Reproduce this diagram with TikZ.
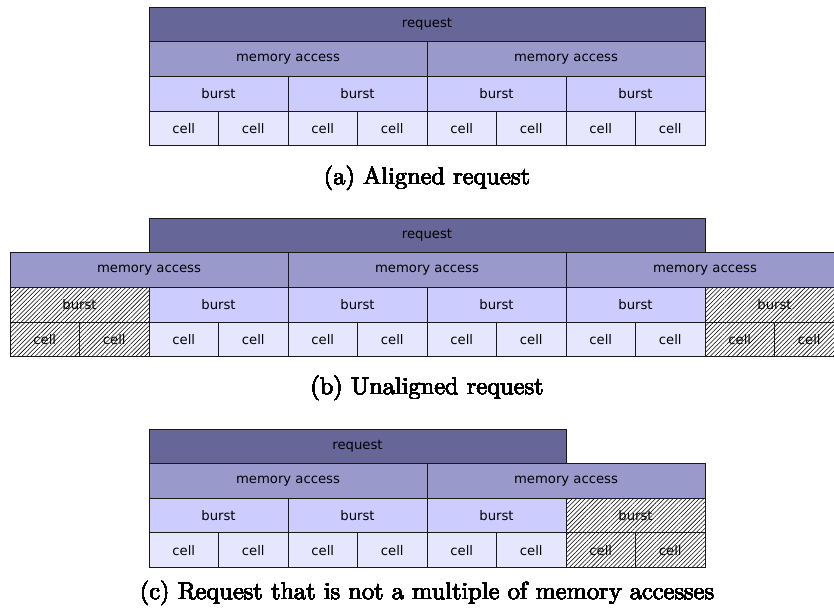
\documentclass[tikz,border=0pt]{standalone}
\usepackage{fontspec}
\newfontfamily\boxfont{DejaVu Sans}
\usetikzlibrary{patterns.meta}
\definecolor{reqc}{HTML}{666699}
\definecolor{memc}{HTML}{9999CC}
\definecolor{burstc}{HTML}{CCCCFF}
\definecolor{cellc}{HTML}{E6E6FF}
\tikzset{
  blk/.style={draw=black!90, line width=0.8pt, inner sep=0pt, outer sep=0pt,
    anchor=north west, minimum height=34.6pt,
    font=\boxfont\fontsize{13.2}{15}\selectfont, text=black},
  reqbox/.style={blk, fill=reqc},
  membox/.style={blk, fill=memc},
  burstbox/.style={blk, fill=burstc},
  cellbox/.style={blk, fill=cellc},
  spillbox/.style={blk, fill=white},
  hatch/.style={pattern={Lines[angle=45,distance=3.1pt,line width=0.55pt]}},
  capt/.style={anchor=base, scale=2.44, font=\fontsize{10}{12}\selectfont},
}
% \blk{name}{style}{x}{y}{width}{text}
\newcommand\blk[6]{\node[#2, minimum width=#5pt] (#1) at (#3,#4) {#6};}
% hatching laid over a box (and its text), then the border again
\newcommand\hatchover[1]{%
  \fill[hatch] (#1.south west) rectangle (#1.north east);
  \draw[line width=0.8pt, black!90] (#1.south west) rectangle (#1.north east);}
\begin{document}
\begin{tikzpicture}[x=1pt, y=-1pt]
\useasboundingbox (0,0) rectangle (834,615);
\clip (0,0) rectangle (834,615);

% ---------- (a) aligned request ----------
\blk{a-req}{reqbox}{149}{7.3}{556}{request}
\foreach \i in {0,1}
  \blk{a-mem\i}{membox}{149+278*\i}{41.9}{278}{memory access}
\foreach \i in {0,...,3}
  \blk{a-burst\i}{burstbox}{149+139*\i}{76.5}{139}{burst}
\foreach \i in {0,...,7}
  \blk{a-cell\i}{cellbox}{149+69.5*\i}{111.1}{69.5}{cell}
\node[capt] (a-cap) at (427,184) {(a)~Aligned request};

% ---------- (b) unaligned request ----------
\blk{b-req}{reqbox}{149}{218.2}{556}{request}
\foreach \i in {0,1,2}
  \blk{b-mem\i}{membox}{10+278*\i}{252.8}{278}{memory access}
\foreach \i in {1,...,4}
  \blk{b-burst\i}{burstbox}{10+139*\i}{287.4}{139}{burst}
\foreach \i in {2,...,9}
  \blk{b-cell\i}{cellbox}{10+69.5*\i}{322.0}{69.5}{cell}
\blk{b-burst0}{spillbox}{10}{287.4}{139}{burst}
\blk{b-burst5}{spillbox}{705}{287.4}{139}{burst}
\blk{b-cell0}{spillbox}{10}{322.0}{69.5}{cell}
\blk{b-cell1}{spillbox}{79.5}{322.0}{69.5}{cell}
\blk{b-cell10}{spillbox}{705}{322.0}{69.5}{cell}
\blk{b-cell11}{spillbox}{774.5}{322.0}{69.5}{cell}
\foreach \n in {b-burst0,b-burst5,b-cell0,b-cell1,b-cell10,b-cell11}
  \hatchover{\n}
\node[capt] (b-cap) at (427,394.5) {(b)~Unaligned request};

% ---------- (c) request not a multiple of memory accesses ----------
\blk{c-req}{reqbox}{149}{429}{417}{request}
\foreach \i in {0,1}
  \blk{c-mem\i}{membox}{149+278*\i}{463.6}{278}{memory access}
\foreach \i in {0,1,2}
  \blk{c-burst\i}{burstbox}{149+139*\i}{498.2}{139}{burst}
\foreach \i in {0,...,5}
  \blk{c-cell\i}{cellbox}{149+69.5*\i}{532.8}{69.5}{cell}
\blk{c-burst3}{spillbox}{566}{498.2}{139}{burst}
\blk{c-cell6}{spillbox}{566}{532.8}{69.5}{cell}
\blk{c-cell7}{spillbox}{635.5}{532.8}{69.5}{cell}
\foreach \n in {c-burst3,c-cell6,c-cell7}
  \hatchover{\n}
\node[capt] (c-cap) at (427,599) {(c)~Request that is not a multiple of memory accesses};
\end{tikzpicture}
\end{document}
